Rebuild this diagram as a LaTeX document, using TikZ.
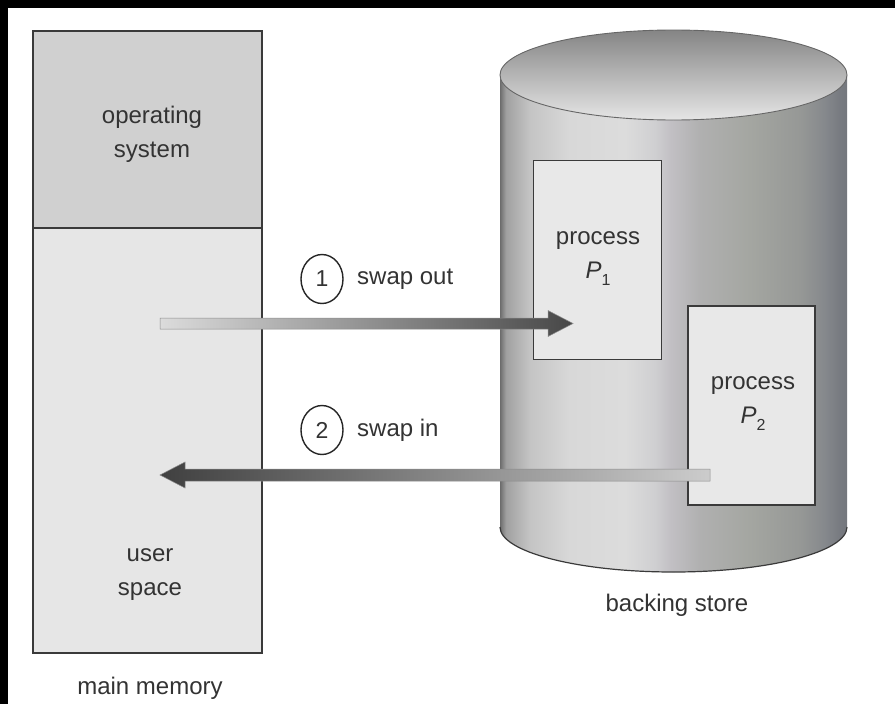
\documentclass[tikz,border=0pt]{standalone}
\usepackage{fontspec}
\setmainfont{Liberation Sans}
\usetikzlibrary{calc,shapes.geometric}

\definecolor{txt}{HTML}{333333}
\definecolor{edge}{HTML}{3A3A3A}
\definecolor{osfill}{HTML}{D0D0D0}
\definecolor{userfill}{HTML}{E6E6E6}
\definecolor{procfill}{HTML}{E8E8E8}
% vertical bands of the metallic drum
\definecolor{cylA}{HTML}{6C6C6C}
\definecolor{cylB}{HTML}{A0A0A0}
\definecolor{cylC}{HTML}{C4C4C4}
\definecolor{cylD}{HTML}{D8D8D8}
\definecolor{cylE}{HTML}{DCDCDC}
\definecolor{cylF}{HTML}{CFCFD1}
\definecolor{cylG}{HTML}{C2C0C4}
\definecolor{cylH}{HTML}{B0B0B0}
\definecolor{cylI}{HTML}{A4A6A1}
\definecolor{cylJ}{HTML}{969896}
\definecolor{cylK}{HTML}{85888C}
\definecolor{cylL}{HTML}{777A80}
\definecolor{cylM}{HTML}{74777D}

\pgfdeclarehorizontalshading{cylbody}{100bp}{%
  color(0bp)=(cylA); color(25bp)=(cylA); color(25.85bp)=(cylB);
  color(29.3bp)=(cylC); color(35bp)=(cylD); color(43bp)=(cylE);
  color(47.35bp)=(cylF); color(49.5bp)=(cylG); color(53.8bp)=(cylH);
  color(61bp)=(cylI); color(68.25bp)=(cylJ); color(71.85bp)=(cylK);
  color(74bp)=(cylL); color(75bp)=(cylM); color(100bp)=(cylM)}

\begin{document}
\begin{tikzpicture}[x=1pt,y=-1pt,
  lbl/.style={font=\fontsize{24}{34}\selectfont, text=txt, align=center, inner sep=0pt},
  numlbl/.style={font=\fontsize{23}{23}\selectfont, text=txt, inner sep=0pt},
  region/.style={draw=edge, line width=1.8pt, inner sep=0pt, minimum width=229pt},
  procbox/.style={draw=edge, line width=1.5pt, fill=procfill, inner sep=0pt,
                  minimum width=128pt, minimum height=199pt},
  stepmark/.style={ellipse, draw=black!85, line width=1.4pt, minimum width=42pt,
                   minimum height=49pt, inner sep=0pt},
  fatarrow/.style={draw=black!45, line width=0.5pt}]

\useasboundingbox (0,0) rectangle (895,704);
\fill[white] (0,0) rectangle (895,704);
\fill[black] (0,0) rectangle (895,8);
\fill[black] (0,0) rectangle (8,704);

% ---------- main memory ----------
\node[region, fill=osfill, minimum height=197pt] (os) at (147.5,129.5) {};
\node[region, fill=userfill, minimum height=425pt] (user) at (147.5,440.5) {};
\node[lbl] (oslbl) at (152,134) {operating\\system};
\node[lbl] (userlbl) at (150,575) {user\\space};
\node[lbl] (memlbl) at (150,688) {main memory};

% ---------- backing store drum ----------
\path[shading=cylbody]
  (500,75) -- (500,527)
  arc[start angle=180, end angle=360, x radius=173.5pt, y radius=45pt]
  -- (847,75) -- cycle;
\draw[edge, line width=1.2pt]
  (500,527) arc[start angle=180, end angle=360, x radius=173.5pt, y radius=45pt];
\path[top color=black!48, middle color=black!24, bottom color=black!10]
  (673.5,75) ellipse[x radius=173.5pt, y radius=45pt];
\draw[black!60, line width=0.9pt]
  (673.5,75) ellipse[x radius=173.5pt, y radius=45pt];
\node[lbl] (storelbl) at (677,605) {backing store};

% ---------- processes on the drum ----------
\node[procbox] (p1) at (597.5,260) {};
\node[lbl] (p1lbl) at (598,259) {process\\\textit{P}\raisebox{-7pt}{\fontsize{16}{16}\selectfont 1}};
\node[procbox, minimum width=127pt] (p2) at (751.5,405.5) {};
\node[lbl] (p2lbl) at (753,404) {process\\\textit{P}\raisebox{-7pt}{\fontsize{16}{16}\selectfont 2}};

% ---------- swap out ----------
\coordinate (outtail) at (160,323.5);
\coordinate (outtip) at (573,323.5);
\path[fatarrow, left color=black!14, middle color=black!45, right color=black!72]
  ($(outtail)+(0,-5.5)$) -- ($(outtip)+(-25,-5.5)$) -- ($(outtip)+(-25,-13)$)
  -- (outtip) -- ($(outtip)+(-25,13)$) -- ($(outtip)+(-25,5.5)$)
  -- ($(outtail)+(0,5.5)$) -- cycle;
\node[stepmark] (m1) at (322,279) {};
\node[numlbl] (n1) at (m1) {1};
\node[lbl, anchor=west] (outlbl) at (357,279) {swap out};

% ---------- swap in ----------
\coordinate (intail) at (710,475);
\coordinate (intip) at (160,475);
\path[fatarrow, left color=black!75, middle color=black!50, right color=black!20]
  ($(intail)+(0,-6)$) -- ($(intip)+(25,-6)$) -- ($(intip)+(25,-13)$)
  -- (intip) -- ($(intip)+(25,13)$) -- ($(intip)+(25,6)$)
  -- ($(intail)+(0,6)$) -- cycle;
\node[stepmark] (m2) at (322,430) {};
\node[numlbl] (n2) at (m2) {2};
\node[lbl, anchor=west] (inlbl) at (357,430) {swap in};

\end{tikzpicture}
\end{document}
